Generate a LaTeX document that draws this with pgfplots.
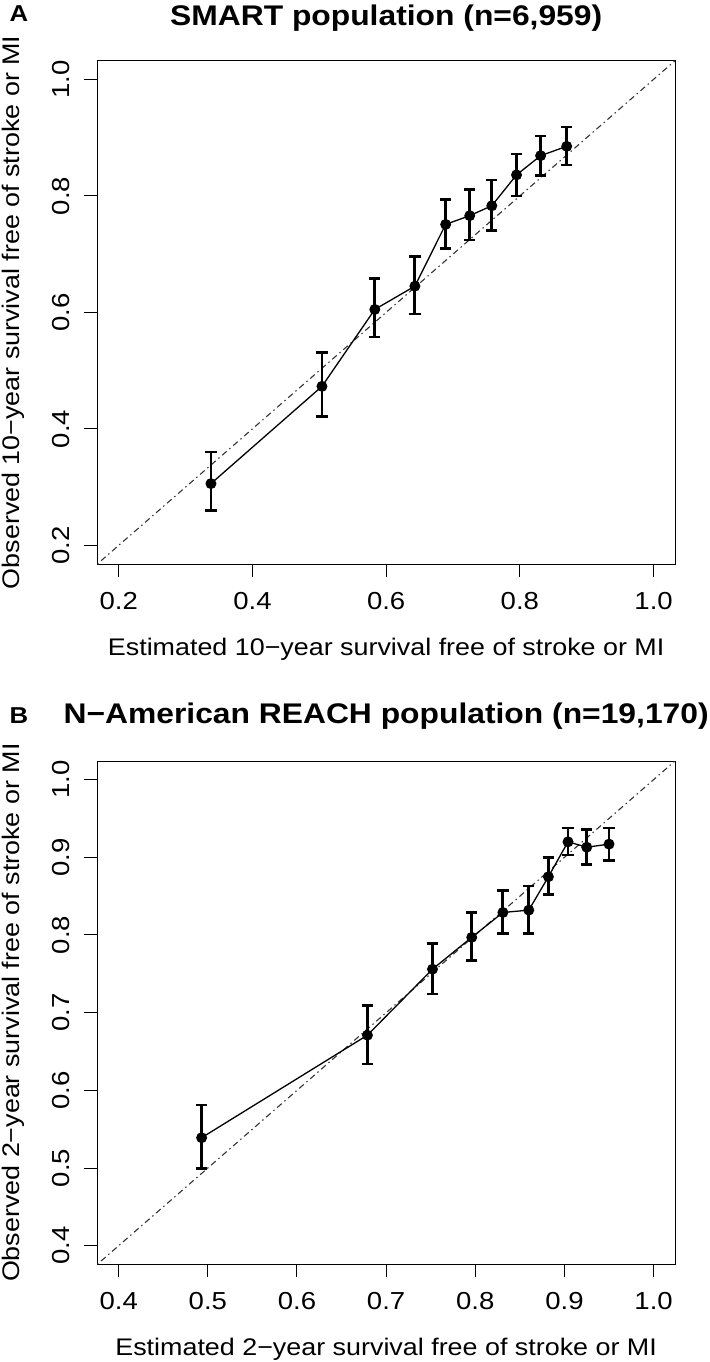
\documentclass[border=0pt]{standalone}
\usepackage{fontspec}
\setmainfont{Liberation Sans}[FakeStretch=1.12]
\usepackage{pgfplots}
\usepackage{pgfplotstable}
\pgfplotsset{compat=1.18}

\pgfplotstableread{
x y ep em
0.338 0.306 0.054 0.046
0.504 0.473 0.058 0.052
0.583 0.605 0.053 0.047
0.643 0.645 0.051 0.048
0.689 0.751 0.043 0.041
0.725 0.766 0.045 0.042
0.758 0.783 0.044 0.042
0.795 0.836 0.036 0.036
0.831 0.869 0.034 0.034
0.870 0.885 0.033 0.032
}\smart

\pgfplotstableread{
x y ep em
0.493 0.539 0.042 0.040
0.679 0.671 0.038 0.037
0.752 0.756 0.033 0.032
0.796 0.797 0.032 0.030
0.831 0.829 0.028 0.027
0.860 0.832 0.031 0.030
0.882 0.875 0.025 0.023
0.904 0.920 0.018 0.017
0.925 0.913 0.023 0.022
0.950 0.917 0.021 0.021
}\reach

\pgfplotsset{
  calib/.style={
    scale only axis,
    width=288.85pt, height=251.65pt,
    axis line style={line width=0.5pt, black},
    tick align=outside,
    xtick pos=bottom, ytick pos=left,
    major tick length=6.5pt,
    tick style={line width=0.5pt, black},
    tick label style={font=\fontsize{12.3}{14}\selectfont},
    label style={font=\fontsize{12}{14}\selectfont},
    every axis title/.style={font=\bfseries\fontsize{14.2}{16}\selectfont, at={(axis description cs:0.5,1)}, anchor=base},
    xticklabel style={anchor=north, inner sep=0pt, yshift=-7.5pt},
    yticklabel style={xshift=-7.15pt, rotate=90, anchor=base, inner sep=0pt},
    xlabel style={at={(axis description cs:0.5,-0.1812)}, anchor=base, inner sep=0pt},
    ylabel style={at={(axis description cs:-0.1355,0.5)}, rotate=0, anchor=base, inner sep=0pt},
    /pgf/number format/.cd, fixed, fixed zerofill, precision=1, assume math mode=true,
  },
  diag/.style={black!80, line width=0.55pt, dash pattern=on 0.7pt off 1.8pt on 3pt off 1.8pt},
  obs/.style={black, line width=0.65pt, mark=*, mark size=2.4pt, mark options={fill=black, solid},
    error bars/.cd, y dir=both, y explicit,
    error bar style={line width=1.45pt, black},
    error mark options={rotate=90, mark size=2.8pt, line width=1.3pt, black}},
}

\begin{document}
\begin{tikzpicture}
\useasboundingbox (0,0) rectangle (354.5pt,-681pt);

\begin{axis}[calib,
  at={(48.65pt,-30.35pt)}, anchor=north west,
  xmin=0.168, xmax=1.032, ymin=0.168, ymax=1.032,
  xtick={0.2,0.4,0.6,0.8,1.0}, ytick={0.2,0.4,0.6,0.8,1.0},
  title={SMART population (n=6,959)},
  title style={yshift=17.85pt},
  xlabel={Estimated 10−year survival free of stroke or MI},
  ylabel={Observed 10−year survival free of stroke or MI},
]
\addplot[diag] coordinates {(0.168,0.168) (1.032,1.032)};
\addplot[obs] table[x=x, y=y, y error plus=ep, y error minus=em] {\smart};
\end{axis}

\begin{axis}[calib,
  at={(48.65pt,-380.5pt)}, anchor=north west,
  xmin=0.376, xmax=1.024, ymin=0.376, ymax=1.024,
  xtick={0.4,0.5,0.6,0.7,0.8,0.9,1.0}, ytick={0.4,0.5,0.6,0.7,0.8,0.9,1.0},
  title={N−American REACH population (n=19,170)},
  title style={yshift=19pt},
  xlabel={Estimated 2−year survival free of stroke or MI},
  ylabel={Observed 2−year survival free of stroke or MI},
]
\addplot[diag] coordinates {(0.376,0.376) (1.024,1.024)};
\addplot[obs] table[x=x, y=y, y error plus=ep, y error minus=em] {\reach};
\end{axis}

\node[anchor=base, inner sep=0pt, font=\bfseries\fontsize{11.5}{13}\selectfont] at (9.5pt,-10.5pt) {A};
\node[anchor=base, inner sep=0pt, font=\bfseries\fontsize{11.5}{13}\selectfont] at (9.5pt,-361.5pt) {B};
\end{tikzpicture}
\end{document}
